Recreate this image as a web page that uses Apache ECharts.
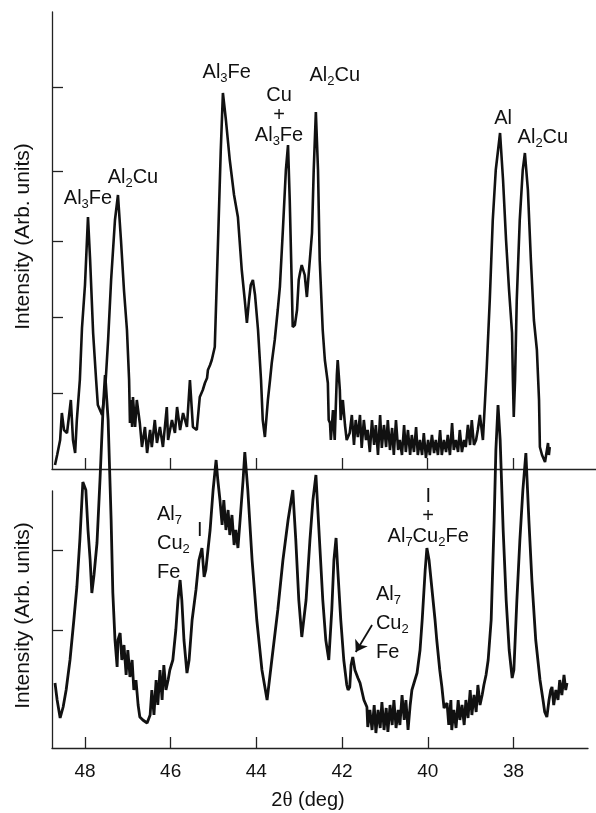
<!DOCTYPE html>
<html>
<head>
<meta charset="utf-8">
<style>
  html, body { margin: 0; padding: 0; background: #fff; }
  #chart { width: 596px; height: 813px; }
</style>
<script src="https://cdn.jsdelivr.net/npm/echarts@6/dist/echarts.min.js"></script>
</head>
<body>
<div id="chart"></div>
<script>
const thetaTicks = [48, 46, 44, 42, 40, 38];
const topTicks = [76, 152, 228, 298, 382];
const bottomTicks = [118, 198];

// 2theta (deg), intensity (arb.)
const topScan = [
  [48.70,4],[48.65,14],[48.58,29],[48.54,56],[48.49,39],[48.42,36],[48.37,54],[48.33,69],[48.28,29],[48.23,16],
  [48.19,49],[48.12,89],[48.07,141],[48.00,184],[47.93,252],[47.88,209],[47.81,136],[47.74,89],[47.70,64],[47.65,59],
  [47.60,54],[47.53,79],[47.46,129],[47.39,189],[47.30,249],[47.23,274],[47.16,229],[47.09,179],[47.02,139],[46.97,89],
  [46.95,46],[46.93,69],[46.90,42],[46.88,72],[46.83,42],[46.79,69],[46.72,46],[46.67,22],[46.60,42],[46.55,16],
  [46.48,39],[46.44,22],[46.37,49],[46.32,26],[46.25,42],[46.18,22],[46.09,62],[46.06,29],[45.97,49],[45.90,36],
  [45.85,62],[45.78,39],[45.71,56],[45.62,42],[45.55,89],[45.48,42],[45.39,39],[45.32,72],[45.25,79],[45.20,86],
  [45.15,91],[45.13,99],[45.08,104],[45.04,109],[44.97,122],[44.90,219],[44.83,319],[44.78,376],[44.71,349],[44.62,309],
  [44.52,274],[44.43,252],[44.34,199],[44.27,169],[44.22,146],[44.17,169],[44.13,184],[44.08,189],[44.03,174],[43.96,139],
  [43.89,89],[43.85,49],[43.80,32],[43.73,69],[43.68,89],[43.64,106],[43.57,129],[43.50,159],[43.45,182],[43.38,239],
  [43.31,299],[43.26,324],[43.22,269],[43.17,179],[43.15,142],[43.10,144],[43.05,159],[43.01,189],[42.98,196],[42.94,204],
  [42.91,202],[42.87,194],[42.82,172],[42.77,199],[42.70,236],[42.66,299],[42.61,357],[42.56,299],[42.52,209],[42.45,139],
  [42.40,109],[42.33,86],[42.31,49],[42.28,46],[42.26,29],[42.21,59],[42.17,29],[42.12,94],[42.10,109],[42.05,79],
  [42.03,49],[41.98,69],[41.93,44],[41.89,29],[41.82,36],[41.77,54],[41.72,24],[41.68,49],[41.63,32],[41.58,54],
  [41.54,21],[41.49,49],[41.44,29],[41.40,39],[41.35,17],[41.30,49],[41.25,24],[41.21,44],[41.16,14],[41.11,54],
  [41.07,21],[41.02,44],[40.97,22],[40.93,49],[40.88,19],[40.83,41],[40.79,14],[40.74,49],[40.69,19],[40.65,29],
  [40.60,14],[40.55,44],[40.51,17],[40.46,39],[40.41,14],[40.37,34],[40.32,17],[40.27,42],[40.23,14],[40.18,29],
  [40.13,14],[40.09,36],[40.04,11],[39.99,29],[39.95,14],[39.90,34],[39.85,16],[39.81,29],[39.76,14],[39.71,39],
  [39.67,14],[39.62,29],[39.57,17],[39.53,34],[39.48,14],[39.43,46],[39.39,19],[39.34,29],[39.29,17],[39.25,39],
  [39.20,17],[39.15,29],[39.11,22],[39.06,44],[39.01,24],[38.97,49],[38.92,24],[38.87,29],[38.83,39],[38.78,54],
  [38.71,29],[38.66,69],[38.62,102],[38.55,169],[38.48,249],[38.41,299],[38.31,336],[38.24,289],[38.17,229],[38.10,179],
  [38.03,136],[38.01,89],[37.99,52],[37.96,89],[37.92,169],[37.85,249],[37.78,299],[37.73,316],[37.66,279],[37.59,209],
  [37.52,149],[37.45,119],[37.40,69],[37.38,22],[37.33,14],[37.26,7],[37.22,6],[37.19,26],[37.17,14],[37.15,22]
];

const bottomScan = [
  [48.70,65],[48.65,48],[48.58,30],[48.51,41],[48.44,58],[48.35,88],[48.26,128],[48.19,161],[48.12,208],[48.05,266],
  [47.98,258],[47.93,218],[47.88,188],[47.84,155],[47.79,173],[47.72,205],[47.65,268],[47.58,338],[47.53,373],[47.46,328],
  [47.39,228],[47.35,155],[47.30,108],[47.25,81],[47.23,108],[47.18,115],[47.14,88],[47.09,103],[47.04,73],[47.00,98],
  [46.95,71],[46.90,88],[46.86,58],[46.81,68],[46.76,43],[46.72,31],[46.65,28],[46.55,25],[46.48,33],[46.44,58],
  [46.39,33],[46.34,68],[46.30,43],[46.25,78],[46.20,48],[46.16,83],[46.11,58],[46.06,68],[46.02,78],[45.95,88],
  [45.88,118],[45.83,148],[45.78,168],[45.74,148],[45.69,108],[45.62,75],[45.57,88],[45.50,128],[45.41,158],[45.34,188],
  [45.27,200],[45.22,171],[45.18,178],[45.08,218],[45.01,258],[44.94,288],[44.90,268],[44.85,248],[44.80,223],[44.76,248],
  [44.71,218],[44.66,238],[44.62,213],[44.57,233],[44.52,203],[44.48,218],[44.43,200],[44.38,228],[44.31,268],[44.27,296],
  [44.20,258],[44.10,188],[43.99,128],[43.87,78],[43.75,48],[43.64,88],[43.50,138],[43.38,188],[43.26,228],[43.15,258],
  [43.08,208],[43.01,148],[42.94,111],[42.84,148],[42.75,208],[42.68,248],[42.61,273],[42.54,218],[42.45,148],[42.38,108],
  [42.31,88],[42.24,138],[42.19,188],[42.14,210],[42.10,178],[42.03,128],[41.96,88],[41.89,63],[41.86,58],[41.82,61],
  [41.79,83],[41.75,91],[41.70,78],[41.63,70],[41.58,65],[41.49,48],[41.42,41],[41.40,21],[41.35,38],[41.30,18],
  [41.25,43],[41.21,15],[41.16,38],[41.11,20],[41.07,46],[41.02,18],[40.97,40],[40.93,16],[40.88,43],[40.83,23],
  [40.79,48],[40.74,20],[40.69,38],[40.65,23],[40.60,53],[40.55,28],[40.51,48],[40.46,18],[40.41,43],[40.37,58],
  [40.30,68],[40.25,75],[40.18,98],[40.13,128],[40.06,178],[40.02,200],[39.97,188],[39.90,158],[39.83,128],[39.79,108],
  [39.72,78],[39.67,61],[39.62,40],[39.55,45],[39.51,23],[39.46,48],[39.44,18],[39.39,38],[39.34,20],[39.29,48],
  [39.25,28],[39.20,43],[39.15,23],[39.11,48],[39.06,30],[39.01,58],[38.97,33],[38.92,53],[38.87,36],[38.83,63],
  [38.78,43],[38.73,53],[38.69,63],[38.64,73],[38.59,88],[38.52,128],[38.45,228],[38.41,298],[38.36,343],[38.31,308],
  [38.24,218],[38.17,148],[38.10,98],[38.03,70],[37.99,78],[37.92,148],[37.85,208],[37.78,258],[37.71,295],[37.64,228],
  [37.57,168],[37.48,108],[37.38,68],[37.31,48],[37.27,36],[37.22,31],[37.17,48],[37.13,58],[37.10,61],[37.06,43],
  [37.01,58],[36.96,48],[36.92,68],[36.87,53],[36.82,73],[36.78,58],[36.75,65]
];

// peak labels: rich text, anchor [2theta, intensity]
const topLabels = [
  { text: "{n|Al}{s|3}{n|Fe}", at: [47.93, 271] },
  { text: "{n|Al}{s|2}{n|Cu}", at: [46.88, 292] },
  { text: "{n|Al}{s|3}{n|Fe}", at: [44.69, 397] },
  { text: "{n|Cu}\n{n|+}\n{n|Al}{s|3}{n|Fe}", at: [43.47, 354] },
  { text: "{n|Al}{s|2}{n|Cu}", at: [42.17, 394] },
  { text: "{n|Al}", at: [38.24, 351] },
  { text: "{n|Al}{s|2}{n|Cu}", at: [37.31, 332] }
];
const bottomLabels = [
  { text: "{w|Al}{ws|7}\n{w|Cu}{ws|2}\n{w|Fe}", at: [46.32, 205], align: "left" },
  { text: "{n|I}", at: [45.32, 218] },
  { text: "{n|I}\n{n|+}\n{n|Al}{s|7}{n|Cu}{s|2}{n|Fe}", at: [39.99, 232] },
  { text: "{w|Al}{ws|7}\n{w|Cu}{ws|2}\n{w|Fe}", at: [41.21, 125], align: "left" }
];
const arrowFromTo = [[41.30, 123], [41.68, 96]];

const FONT = "'Liberation Sans', Arial, sans-serif";
const INK = "#111";

const rich = {
  n: { fontSize: 20, fontFamily: FONT, color: INK, lineHeight: 20 },
  s: { fontSize: 13, fontFamily: FONT, color: INK, lineHeight: 8, padding: [12, 0, 0, 0] },
  w: { fontSize: 20, fontFamily: FONT, color: INK, lineHeight: 29 },
  ws: { fontSize: 13, fontFamily: FONT, color: INK, lineHeight: 8, padding: [12, 0, 0, 0] }
};

function marks(list) {
  return {
    silent: true,
    symbol: "circle",
    symbolSize: 0,
    label: { show: true, position: "inside", rich: rich },
    data: list.map(p => ({
      coord: p.at,
      label: { formatter: p.text, align: p.align || "center" }
    }))
  };
}

const axisLine = { show: true, onZero: false, lineStyle: { color: "#222", width: 1.3 } };
const tickStyle = { color: "#222", width: 1.3 };

function thetaAxis(gridIndex, min, withLabels) {
  const axis = {
    type: "value",
    gridIndex: gridIndex,
    min: min,
    max: 48.77,
    inverse: true,
    axisLine: axisLine,
    axisTick: { show: true, inside: true, length: 11, customValues: thetaTicks, lineStyle: tickStyle },
    axisLabel: { show: false },
    splitLine: { show: false }
  };
  if (withLabels) {
    axis.axisLabel = {
      show: true,
      customValues: thetaTicks,
      margin: 14,
      fontSize: 19,
      fontFamily: FONT,
      color: INK
    };
    axis.name = "{a|2}{t|θ}{a| (deg)}";
    axis.nameLocation = "middle";
    axis.nameGap = 42;
    axis.nameTextStyle = {
      padding: [0, 24, 0, 0],
      rich: {
        a: { fontSize: 20, fontFamily: FONT, color: INK },
        t: { fontSize: 21, fontFamily: "'Liberation Serif', 'Times New Roman', serif", color: INK }
      }
    };
  }
  return axis;
}

function intensityAxis(gridIndex, max, ticks) {
  return {
    type: "value",
    gridIndex: gridIndex,
    min: 0,
    max: max,
    axisLine: axisLine,
    axisTick: { show: true, inside: true, length: 11, customValues: ticks, lineStyle: tickStyle },
    axisLabel: { show: false },
    splitLine: { show: false },
    name: "Intensity (Arb. units)",
    nameLocation: "middle",
    nameRotate: 90,
    nameGap: 18,
    nameTextStyle: { fontSize: 21, fontFamily: FONT, color: INK, padding: [0, 0, 0, 8] }
  };
}

const chart = echarts.init(document.getElementById("chart"), null, { renderer: "canvas" });

chart.setOption({
  animation: false,
  backgroundColor: "#fff",
  grid: [
    { left: 52, top: 12, right: 0, height: 457 },
    { left: 52, top: 491, right: 8, height: 257 }
  ],
  xAxis: [
    thetaAxis(0, 36.07, false),
    thetaAxis(1, 36.26, true)
  ],
  yAxis: [
    intensityAxis(0, 457, topTicks),
    intensityAxis(1, 257, bottomTicks)
  ],
  series: [
    {
      type: "line",
      xAxisIndex: 0,
      yAxisIndex: 0,
      data: topScan,
      showSymbol: false,
      lineStyle: { color: INK, width: 2.6 },
      markPoint: marks(topLabels)
    },
    {
      type: "line",
      xAxisIndex: 1,
      yAxisIndex: 1,
      data: bottomScan,
      showSymbol: false,
      clip: false,
      lineStyle: { color: INK, width: 2.8 },
      markPoint: marks(bottomLabels),
      markLine: {
        silent: true,
        symbol: ["none", "arrow"],
        symbolSize: 11,
        precision: 4,
        lineStyle: { color: INK, width: 1.8, type: "solid" },
        label: { show: false },
        data: [[{ coord: arrowFromTo[0] }, { coord: arrowFromTo[1] }]]
      }
    }
  ]
});
</script>
</body>
</html>
